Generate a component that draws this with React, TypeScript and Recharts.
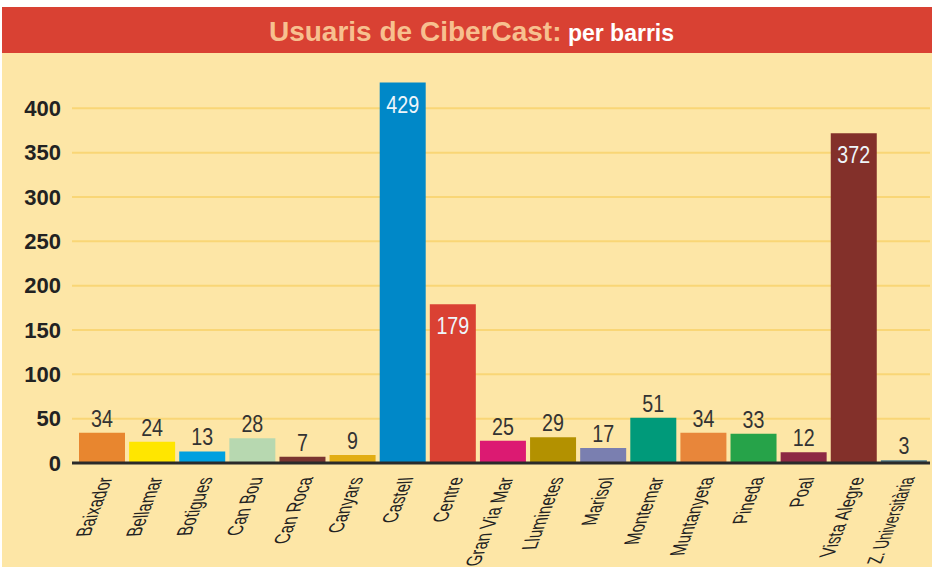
import React from "react"
import { BarChart, Bar, XAxis, YAxis, CartesianGrid, Cell, LabelList } from "recharts"

const barris = [
  "Baixador",
  "Bellamar",
  "Botigues",
  "Can Bou",
  "Can Roca",
  "Canyars",
  "Castell",
  "Centre",
  "Gran Via Mar",
  "Lluminetes",
  "Marisol",
  "Montemar",
  "Muntanyeta",
  "Pineda",
  "Poal",
  "Vista Alegre",
  "Z. Universitària",
]
const usuaris = [34, 24, 13, 28, 7, 9, 429, 179, 25, 29, 17, 51, 34, 33, 12, 372, 3]
const colors = [
  "#e8862f",
  "#ffe600",
  "#00a0e0",
  "#b7d8b0",
  "#7a3530",
  "#e2ad13",
  "#0088c8",
  "#da4133",
  "#dc1a72",
  "#b39100",
  "#7a7fb0",
  "#009a7a",
  "#e8863a",
  "#26a349",
  "#8d2843",
  "#83302a",
  "#4e7a8a",
]
const yTicks = [0, 50, 100, 150, 200, 250, 300, 350, 400]

const data = barris.map((barri, i) => ({ barri, usuaris: usuaris[i] }))

const sans = "'Liberation Sans', Arial, sans-serif"

// category labels: rotated up, squeezed and sheared like the printed chart
function BarriTick({ x, y, payload }: any) {
  // the longest name is set tighter in the original
  const k = payload.value.length > 14 ? 0.86 : 1
  const a = (0.28 * k).toFixed(3)
  const b = (-0.715 * k).toFixed(3)
  return (
    <g transform={`translate(${x + 11},${y + 14})`}>
      <text
        transform={`matrix(${a},${b},1,-0.05,0,0)`}
        textAnchor="end"
        fontFamily={sans}
        fontSize={21}
        fill="#222"
      >
        {payload.value}
      </text>
    </g>
  )
}

// big bars get the number inside in white, the rest on top
function ValueLabel({ x, y, width, value }: any) {
  const inside = value >= 150
  const ty = inside ? y + 30 : y - 6
  return (
    <text
      transform={`translate(${x + width / 2},${ty}) scale(0.82,1)`}
      textAnchor="middle"
      fontFamily={sans}
      fontSize={24}
      fill={inside ? "#eef6fb" : "#333"}
    >
      {value}
    </text>
  )
}

export default function App() {
  return (
    <div>
      <style>{"body{margin:0}"}</style>
      <div style={{ position: "relative", width: 932, height: 567, background: "#fff" }}>
        <div
          style={{
            position: "absolute",
            left: 2,
            top: 7,
            width: 930,
            height: 46,
            background: "#d94133",
            lineHeight: "50px",
            textAlign: "center",
            paddingLeft: 9,
            boxSizing: "border-box",
            fontFamily: sans,
            fontWeight: 700,
            whiteSpace: "nowrap",
          }}
        >
          <span style={{ fontSize: 28, color: "#f7c08f" }}>Usuaris de CiberCast:</span>
          <span style={{ fontSize: 23, color: "#fff" }}> per barris</span>
        </div>
        <div
          style={{
            position: "absolute",
            left: 2,
            top: 53,
            width: 930,
            height: 514,
            background: "#fde6a6",
          }}
        />
        <div style={{ position: "absolute", left: 0, top: 0 }}>
          <BarChart
            width={932}
            height={567}
            data={data}
            margin={{ top: 64, right: 2, left: 0, bottom: 0 }}
            barCategoryGap={2}
          >
            <CartesianGrid
              vertical={false}
              horizontalValues={yTicks}
              stroke="#f9d676"
              strokeWidth={2}
            />
            <XAxis
              dataKey="barri"
              interval={0}
              height={104}
              padding={{ left: 5, right: 1 }}
              tickLine={false}
              tickSize={0}
              tickMargin={0}
              axisLine={{ stroke: "#2a2a2a", strokeWidth: 3 }}
              tick={<BarriTick />}
            />
            <YAxis
              width={72}
              domain={[0, 450]}
              ticks={yTicks}
              axisLine={false}
              tickLine={false}
              tickSize={0}
              tickMargin={11}
              tick={{ fontFamily: sans, fontWeight: 700, fontSize: 22, fill: "#222" }}
            />
            <Bar dataKey="usuaris" isAnimationActive={false}>
              {data.map((d, i) => (
                <Cell key={d.barri} fill={colors[i]} />
              ))}
              <LabelList dataKey="usuaris" content={<ValueLabel />} />
            </Bar>
          </BarChart>
        </div>
      </div>
    </div>
  )
}
